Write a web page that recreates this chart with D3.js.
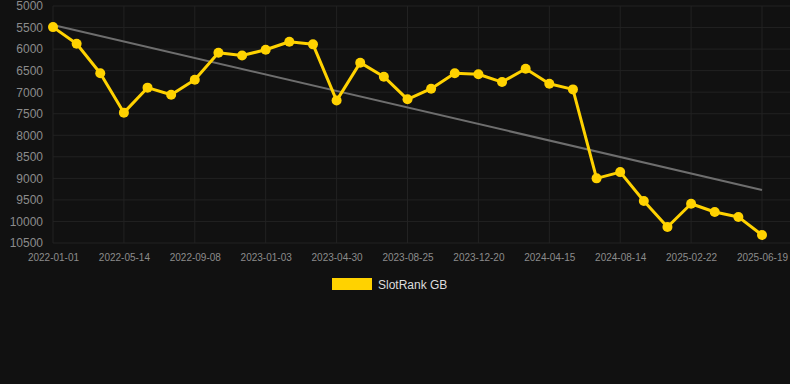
<!DOCTYPE html>
<html lang="en">
<head>
    <meta charset="UTF-8">
    <title>SlotRank GB</title>
    <script src="https://d3js.org/d3.v7.min.js"></script>
    <style>
        body {
            margin: 0;
            background: #111111;
            font-family: Arial, "Liberation Sans", sans-serif;
        }
        .grid line { stroke: #222222; stroke-width: 1px; }
        .tick text { fill: #8c8c8c; }
    </style>
</head>
<body>
    <div id="chart"></div>

    <script>
        // one entry per category; only every 3rd label is drawn
        const dates = [
            "2022-01-01", "2022-02-14", "2022-03-30", "2022-05-14", "2022-06-22", "2022-07-31",
            "2022-09-08", "2022-10-17", "2022-11-25", "2023-01-03", "2023-02-11", "2023-03-22",
            "2023-04-30", "2023-06-08", "2023-07-17", "2023-08-25", "2023-10-03", "2023-11-11",
            "2023-12-20", "2024-01-28", "2024-03-07", "2024-04-15", "2024-05-25", "2024-07-05",
            "2024-08-14", "2024-10-17", "2024-12-20", "2025-02-22", "2025-04-01", "2025-05-10",
            "2025-06-19"
        ];
        const rank = [
            5490, 5875, 6560, 7475, 6895, 7060, 6710, 6085, 6150, 6015, 5830,
            5890, 7195, 6315, 6640, 7165, 6920, 6560, 6585, 6765, 6455, 6805,
            6935, 9000, 8855, 9525, 10130, 9590, 9780, 9895, 10315
        ];
        const trendEnds = [5440, 9270];
        const yTicks = [5000, 5500, 6000, 6500, 7000, 7500, 8000, 8500, 9000, 9500, 10000, 10500];
        const seriesName = "SlotRank GB";

        const width = 790;
        const height = 384;
        const plotLeft = 53, plotRight = 762, gridRight = 790;
        const plotTop = 6, plotBottom = 243;

        const svg = d3.select("#chart")
            .append("svg")
            .attr("width", width)
            .attr("height", height)
            .style("display", "block");

        const x = d3.scalePoint().domain(dates).range([plotLeft, plotRight]);
        const y = d3.scaleLinear().domain([5000, 10500]).range([plotTop, plotBottom]);

        // horizontal grid
        svg.append("g")
            .attr("class", "grid")
            .selectAll("line")
            .data(yTicks)
            .join("line")
            .attr("x1", plotLeft).attr("x2", gridRight)
            .attr("y1", d => y(d)).attr("y2", d => y(d));

        // vertical grid at labelled categories
        const shown = dates.filter((d, i) => i % 3 === 0);
        svg.append("g")
            .attr("class", "grid")
            .selectAll("line")
            .data(shown)
            .join("line")
            .attr("x1", d => x(d)).attr("x2", d => x(d))
            .attr("y1", plotTop).attr("y2", plotBottom);

        // y axis labels
        const yAxis = svg.append("g")
            .attr("transform", `translate(${plotLeft - 10},0)`)
            .call(d3.axisLeft(y).tickValues(yTicks).tickSize(0).tickPadding(0).tickFormat(d3.format("d")));
        yAxis.select(".domain").remove();
        yAxis.selectAll("text").attr("font-size", 12).attr("font-family", "Arial, sans-serif");

        // x axis labels
        const xAxis = svg.append("g")
            .attr("transform", `translate(0,${plotBottom})`)
            .call(d3.axisBottom(x).tickValues(shown).tickSize(0).tickPadding(11));
        xAxis.select(".domain").remove();
        xAxis.selectAll("text").attr("font-size", 10).attr("font-family", "Arial, sans-serif").attr("fill", "#7d7d7d");

        // trend line
        svg.append("line")
            .attr("x1", x(dates[0])).attr("y1", y(trendEnds[0]))
            .attr("x2", x(dates[dates.length - 1])).attr("y2", y(trendEnds[1]))
            .attr("stroke", "#6e6e6e")
            .attr("stroke-width", 2);

        const data = dates.map((d, i) => ({ date: d, value: rank[i] }));

        svg.append("path")
            .datum(data)
            .attr("fill", "none")
            .attr("stroke", "#ffd200")
            .attr("stroke-width", 3)
            .attr("stroke-linejoin", "round")
            .attr("d", d3.line().x(d => x(d.date)).y(d => y(d.value)));

        svg.append("g")
            .selectAll("circle")
            .data(data)
            .join("circle")
            .attr("cx", d => x(d.date))
            .attr("cy", d => y(d.value))
            .attr("r", 5)
            .attr("fill", "#ffd200");

        // legend
        const legend = svg.append("g").attr("transform", "translate(332,278)");
        legend.append("rect")
            .attr("width", 40).attr("height", 12)
            .attr("fill", "#ffd200");
        legend.append("text")
            .attr("x", 46).attr("y", 10.5)
            .attr("font-size", 12)
            .attr("font-family", "Arial, sans-serif")
            .attr("fill", "#dddddd")
            .text(seriesName);
    </script>
</body>
</html>
